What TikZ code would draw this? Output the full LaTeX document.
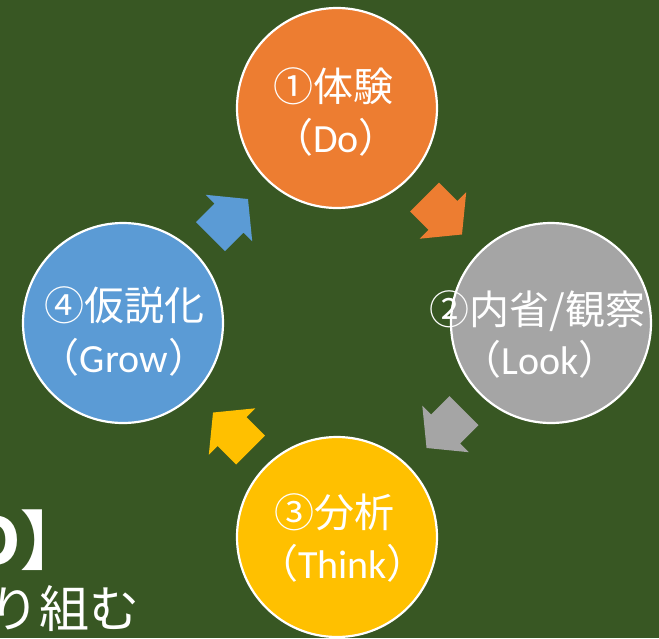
\documentclass[tikz,border=0pt]{standalone}
\usepackage{fontspec}
\setmainfont{Carlito}
\newfontfamily\cjk{Noto Sans CJK JP}
\definecolor{bggreen}{HTML}{385723}
\definecolor{accorange}{HTML}{ED7D31}
\definecolor{accgray}{HTML}{A5A5A5}
\definecolor{accyellow}{HTML}{FFC000}
\definecolor{accblue}{HTML}{5B9BD5}
\begin{document}
\begin{tikzpicture}[x=1pt,y=-1pt,
  stage/.style={circle, draw=white, line width=2.2pt, minimum size=200pt, inner sep=0pt},
  lbl/.style={text=white, inner sep=0pt, anchor=base, font=\cjk\fontsize{40}{48}\selectfont},
  lat/.style={text=white, inner sep=0pt, anchor=base, font=\fontsize{40}{48}\selectfont},
  blockarrow/.pic={\fill[#1] (0,-20.5) -- (26,-20.5) -- (26,-33) -- (53,0) -- (26,33) -- (26,20.5) -- (0,20.5) -- cycle;}
]
\useasboundingbox (0,0) rectangle (659,638);
\clip (0,0) rectangle (659,638);
\fill[bggreen] (0,0) rectangle (659,638);

\node[stage, fill=accorange] (do) at (337,108) {};
\node[stage, fill=accgray] (look) at (551,323) {};
\node[stage, fill=accyellow] (think) at (337,537) {};
\node[stage, fill=accblue] (grow) at (123,323) {};

\pic (a1) at (424.5,197) [rotate=-45] {blockarrow=accorange};
\pic (a2) at (464,410.5) [rotate=-135] {blockarrow=accgray};
\pic (a3) at (250.5,450) [rotate=135] {blockarrow=accyellow};
\pic (a4) at (210.5,236.5) [rotate=45] {blockarrow=accblue};

\node[lbl] (do1) at (333,101) {①体験};
\node[lat] (do2) at (336,152) {{\cjk （}Do{\cjk ）}};
\node[lbl] (look1) at (537.5,324) {②内省/観察};
\node[lat] (look2) at (540,374) {{\cjk （}Look{\cjk ）}};
\node[lbl] (think1) at (334.5,527) {③分析};
\node[lat] (think2) at (342.5,578) {{\cjk （}Think{\cjk ）}};
\node[lbl] (grow1) at (124,320) {④仮説化};
\node[lat] (grow2) at (124,372) {{\cjk （}Grow{\cjk ）}};

\node[text=white, inner sep=0pt, anchor=base east, font=\cjk\bfseries\fontsize{64}{70}\selectfont] (brk) at (85,564) {O】};
\node[text=white, inner sep=0pt, anchor=base east, font=\cjk\fontsize{50}{60}\selectfont] (tori) at (140,627) {り組む};
\end{tikzpicture}
\end{document}
